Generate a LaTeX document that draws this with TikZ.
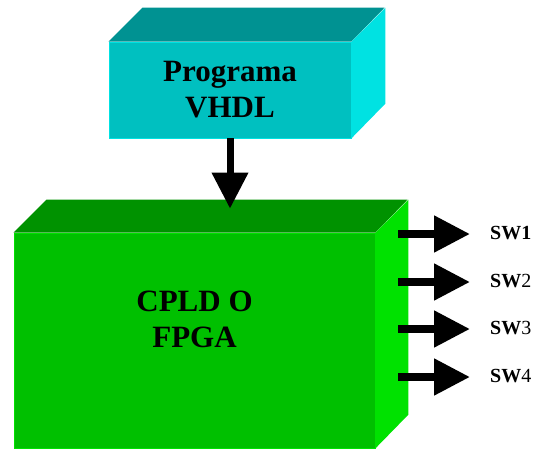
\documentclass[tikz,border=0pt]{standalone}
\usepackage{fontspec}
\setmainfont{Liberation Serif}
\usepackage{tikz}
\usetikzlibrary{arrows.meta}
\definecolor{cyanfront}{RGB}{0,192,192}
\definecolor{cyantop}{RGB}{0,146,146}
\definecolor{cyanside}{RGB}{0,226,226}
\definecolor{greenfront}{RGB}{0,192,0}
\definecolor{greentop}{RGB}{0,146,0}
\definecolor{greenside}{RGB}{0,226,0}
\tikzset{
  box front/.style 2 args={rectangle, inner sep=0pt, fill=#1, draw=#2, line width=0.8pt},
  box text/.style={align=center, inner sep=0pt, font=\bfseries\fontsize{31}{36}\selectfont},
  sw label/.style={anchor=west, inner sep=0pt, font=\bfseries\fontsize{20}{24}\selectfont},
  fat arrow/.style={line width=#1, -{Triangle[length=36pt,width=35pt]}}
}

\begin{document}
\begin{tikzpicture}[x=1pt,y=-1pt]
    \useasboundingbox (0,0) rectangle (534,449);
    % upper block
    \node[box front={cyanfront}{cyanside}, minimum width=242pt, minimum height=96pt] (prog) at (230,90) {};
    \fill[cyantop] (prog.north west) -- ++(34,-34) -- ++(242,0) -- (prog.north east) -- cycle;
    \fill[cyanside] (prog.north east) -- ++(34,-34) -- ++(0,96) -- (prog.south east) -- cycle;
    \node[box text] (progtext) at (prog.center) {Programa\\VHDL};
    % lower block
    \node[box front={greenfront}{greenside}, minimum width=361pt, minimum height=215pt] (cpld) at (194.5,340.5) {};
    \fill[greentop] (cpld.north west) -- ++(33,-33) -- ++(361,0) -- (cpld.north east) -- cycle;
    \fill[greenside] (cpld.north east) -- ++(33,-33) -- ++(0,215) -- (cpld.south east) -- cycle;
    \node[box text] (cpldtext) at ([yshift=21pt]cpld.center) {CPLD O\\FPGA};
    \coordinate (rim) at (prog.south |- cpld.north);
    \coordinate (entry) at ([yshift=24pt]rim);
    \draw[fat arrow=7pt] (prog.south) -- (entry);
    % outputs
    \coordinate (out1) at (398,234);
    \coordinate (out2) at (398,282);
    \coordinate (out3) at (398,329);
    \coordinate (out4) at (398,377);
    \node[sw label] (sw1) at (490,233) {SW1};
    \node[sw label] (sw2) at (490,281) {SW\mdseries 2};
    \node[sw label] (sw3) at (490,328) {SW\mdseries 3};
    \node[sw label] (sw4) at (490,376) {SW\mdseries 4};
    \draw[fat arrow=8pt] (out1) -- ([xshift=-20pt]sw1.west |- out1);
    \draw[fat arrow=8pt] (out2) -- ([xshift=-20pt]sw2.west |- out2);
    \draw[fat arrow=8pt] (out3) -- ([xshift=-20pt]sw3.west |- out3);
    \draw[fat arrow=8pt] (out4) -- ([xshift=-20pt]sw4.west |- out4);
\end{tikzpicture}
\end{document}
